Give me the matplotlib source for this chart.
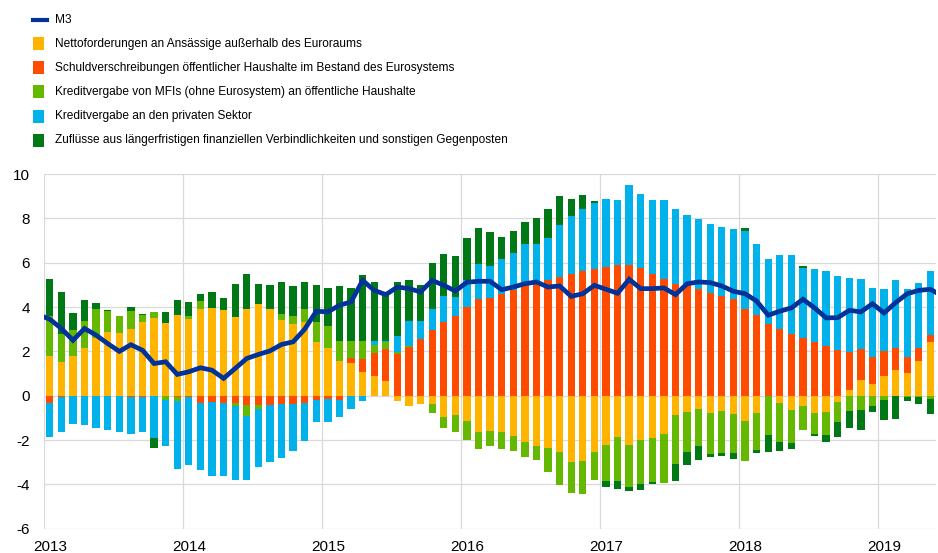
import numpy as np
import matplotlib
matplotlib.use("Agg")
from matplotlib import pyplot as plt
from matplotlib import font_manager
from matplotlib.patches import Rectangle
from matplotlib.lines import Line2D

# monthly data, Jan 2013 - May 2019 (annual % changes / contributions in pp)
start_year = 2013

net_external = [1.78, 1.51, 1.77, 2.13, 2.60, 2.88, 2.82, 3.01, 3.31, 3.49, 3.27, 3.64,
                3.46, 3.93, 3.94, 3.87, 3.57, 3.90, 4.15, 3.93, 3.43, 3.22, 3.33, 2.40,
                2.16, 1.57, 1.47, 1.06, 0.87, 0.64, -0.24, -0.46, -0.37, -0.36, -0.97, -0.87,
                -1.14, -1.66, -1.59, -1.62, -1.84, -2.11, -2.25, -2.37, -2.55, -2.97, -2.94, -2.56,
                -2.22, -1.87, -2.22, -2.01, -1.93, -1.71, -0.87, -0.73, -0.61, -0.78, -0.69, -0.82,
                -1.12, -0.79, -0.03, -0.34, -0.64, -0.48, -0.76, -0.75, -0.27, 0.24, 0.70, 0.54,
                0.90, 1.17, 1.02, 1.56, 2.40]

eurosystem_debt = [-0.31, -0.07, 0.0, 0.0, 0.0, 0.0, 0.0, -0.05, -0.04, 0.0, 0.0, -0.05,
                   -0.08, -0.31, -0.27, -0.31, -0.34, -0.42, -0.42, -0.42, -0.37, -0.37, -0.31, -0.19,
                   -0.15, -0.19, 0.21, 0.61, 1.06, 1.48, 1.86, 2.19, 2.56, 2.98, 3.33, 3.61,
                   4.00, 4.38, 4.42, 4.60, 4.75, 4.98, 5.05, 5.20, 5.35, 5.47, 5.61, 5.73,
                   5.80, 5.88, 5.91, 5.76, 5.50, 5.28, 5.04, 4.98, 4.80, 4.63, 4.48, 4.35,
                   3.93, 3.63, 3.24, 3.00, 2.80, 2.59, 2.41, 2.25, 2.05, 1.71, 1.41, 1.21,
                   1.11, 0.96, 0.73, 0.57, 0.36]

mfi_gov_credit = [1.81, 1.26, 1.21, 1.23, 1.32, 0.93, 0.79, 0.79, 0.33, 0.27, -0.19, -0.20,
                  0.12, 0.36, 0.0, 0.0, -0.12, -0.48, -0.20, 0.0, 0.24, 0.36, 0.60, 0.93,
                  0.97, 0.88, 0.79, 0.78, 0.34, 0.30, 0.09, 0.07, 0.0, -0.43, -0.49, -0.78,
                  -0.87, -0.75, -0.70, -0.79, -0.67, -0.67, -0.64, -1.09, -1.47, -1.42, -1.48, -1.26,
                  -1.65, -1.96, -1.92, -1.96, -1.95, -2.23, -2.19, -1.80, -1.68, -1.83, -1.89, -1.78,
                  -1.84, -1.65, -1.74, -1.77, -1.50, -1.08, -0.97, -1.02, -0.90, -0.69, -0.64, -0.45,
                  -0.21, 0.0, -0.04, -0.07, -0.15]

private_credit = [-1.57, -1.57, -1.27, -1.30, -1.47, -1.54, -1.62, -1.66, -1.60, -1.89, -2.07, -3.07,
                  -3.04, -3.03, -3.34, -3.30, -3.36, -2.92, -2.58, -2.55, -2.44, -2.14, -1.75, -1.00,
                  -1.02, -0.75, -0.58, -0.24, 0.19, 0.05, 0.73, 1.09, 0.82, 0.91, 1.18, 0.82,
                  1.20, 1.56, 1.41, 1.57, 1.69, 1.86, 1.81, 1.93, 2.35, 2.62, 2.82, 2.97,
                  3.07, 2.95, 3.61, 3.34, 3.34, 3.55, 3.39, 3.18, 3.18, 3.12, 3.15, 3.18,
                  3.49, 3.19, 2.91, 3.33, 3.55, 3.18, 3.31, 3.36, 3.34, 3.36, 3.16, 3.12,
                  2.79, 3.07, 3.04, 2.97, 2.85]

longer_term = [1.68, 1.89, 0.75, 0.97, 0.27, 0.06, 0.0, 0.21, 0.05, -0.45, 0.52, 0.67,
               0.64, 0.30, 0.75, 0.52, 1.48, 1.60, 0.90, 1.08, 1.47, 1.38, 1.21, 1.66,
               1.75, 2.52, 2.37, 2.98, 2.65, 2.20, 2.44, 1.89, 1.62, 2.10, 1.87, 1.89,
               1.92, 1.62, 1.57, 0.99, 1.00, 0.99, 1.15, 1.29, 1.32, 0.78, 0.63, 0.10,
               -0.27, -0.36, -0.15, -0.30, -0.09, -0.02, -0.81, -0.58, -0.60, -0.15, -0.15, -0.27,
               0.13, -0.15, -0.75, -0.37, -0.25, 0.10, -0.07, -0.34, -0.70, -0.78, -0.93, -0.30,
               -0.88, -1.05, -0.20, -0.31, -0.66]

# M3 line: Dec 2012 - Jun 2019 (ends are clipped by the axes)
m3 = [3.65,
      3.45, 3.03, 2.50, 3.03, 2.73, 2.35, 2.00, 2.30, 2.05, 1.45, 1.53, 0.96,
      1.08, 1.26, 1.15, 0.78, 1.23, 1.68, 1.86, 2.02, 2.31, 2.43, 3.00, 3.81,
      3.78, 4.08, 4.23, 5.20, 4.75, 4.56, 4.90, 4.83, 4.68, 5.20, 4.98, 4.72,
      5.12, 5.16, 5.16, 4.78, 4.90, 5.05, 5.13, 4.90, 4.95, 4.48, 4.60, 4.98,
      4.80, 4.62, 5.25, 4.83, 4.83, 4.86, 4.56, 5.05, 5.13, 5.10, 4.95, 4.71,
      4.60, 4.27, 3.63, 3.81, 3.96, 4.35, 3.96, 3.51, 3.52, 3.85, 3.78, 4.15,
      3.73, 4.20, 4.60, 4.75, 4.80, 4.50]

labels = ["Nettoforderungen an Ansässige außerhalb des Euroraums",
          "Schuldverschreibungen öffentlicher Haushalte im Bestand des Eurosystems",
          "Kreditvergabe von MFIs (ohne Eurosystem) an öffentliche Haushalte",
          "Kreditvergabe an den privaten Sektor",
          "Zuflüsse aus längerfristigen finanziellen Verbindlichkeiten und sonstigen Gegenposten"]
colors = ["#ffb400", "#ff4b00", "#65b800", "#00b1ea", "#007816"]
m3_color = "#003299"

installed = {f.name for f in font_manager.fontManager.ttflist}
plt.rcParams['font.family'] = ['Liberation Sans', 'DejaVu Sans']
plt.rcParams['axes.unicode_minus'] = False
if "Liberation Sans Narrow" in installed:
	legend_font = {"family": "Liberation Sans Narrow", "size": 11}
else:
	legend_font = {"family": "Liberation Sans", "size": 8.6}

series = [net_external, eurosystem_debt, mfi_gov_credit, private_credit, longer_term]
n = len(net_external)
x = start_year + (np.arange(n) + 0.5) / 12
x_m3 = start_year + (np.arange(len(m3)) - 0.5) / 12

fig = plt.figure(figsize=(9.38, 5.53), dpi=100)
ax = fig.add_axes([44 / 938, (553 - 528.7) / 553, (936.2 - 44) / 938, (528.7 - 174) / 553])

pos_base = np.zeros(n)
neg_base = np.zeros(n)
for vals, c in zip(series, colors):
	v = np.array(vals)
	base = np.where(v >= 0, pos_base, neg_base)
	ax.bar(x, v, bottom=base, width=0.63 / 12, color=c, linewidth=0, zorder=2)
	pos_base = pos_base + np.clip(v, 0, None)
	neg_base = neg_base + np.clip(v, None, 0)

ax.plot(x_m3, m3, color=m3_color, lw=3.4, zorder=3, solid_joinstyle='miter')

ax.set_xlim(start_year, 2019 + 5 / 12)
ax.set_ylim(-6, 10)
ax.set_yticks(np.arange(-6, 11, 2))
years = np.arange(2013, 2020)
ax.set_xticks(years)
ax.set_xticklabels([])
ax.set_xticks(years + 0.5 / 12, minor=True)
ax.set_xticklabels([str(y) for y in years], minor=True)
ax.tick_params(axis='both', which='both', length=0, labelsize=11, colors='black')
ax.tick_params(axis='y', pad=10)
ax.tick_params(axis='x', which='minor', pad=8)
ax.grid(True, which='major', color='#d9d9d9', lw=0.9, zorder=0)
ax.set_axisbelow(True)
for s in ax.spines.values():
	s.set_visible(False)

# legend, drawn on the figure
rows_y = [20, 43.5, 67.5, 91.5, 116, 140]
fig.add_artist(Line2D([33 / 938, 47 / 938], [1 - rows_y[0] / 553] * 2, color=m3_color, lw=3,
                      transform=fig.transFigure))
fig.text(55 / 938, 1 - rows_y[0] / 553, "M3", va='center', ha='left', **legend_font)
for yy, lab, c in zip(rows_y[1:], labels, colors):
	fig.add_artist(Rectangle((33 / 938, 1 - (yy + 6.5) / 553), 11 / 938, 13 / 553,
	                         facecolor=c, edgecolor='none', transform=fig.transFigure))
	fig.text(55 / 938, 1 - yy / 553, lab, va='center', ha='left', **legend_font)

fig.savefig("out.png", dpi=100)
